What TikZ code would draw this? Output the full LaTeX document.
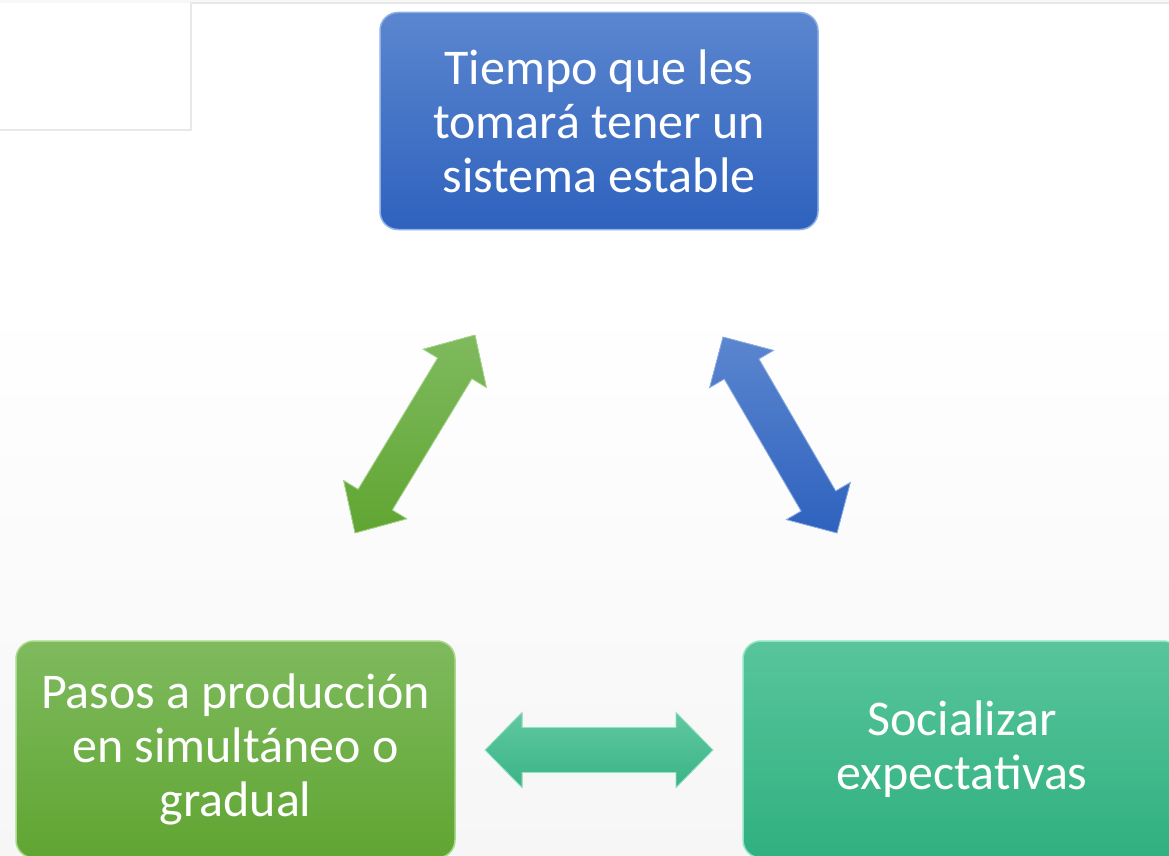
\documentclass[tikz,border=0pt]{standalone}
\usepackage{fontspec}
\setmainfont{Carlito}
\usetikzlibrary{calc}
\definecolor{blueTop}{HTML}{5B86CF}
\definecolor{blueBot}{HTML}{2E62BE}
\definecolor{blueEdge}{HTML}{8FB0E6}
\definecolor{greenTop}{HTML}{7FBA5E}
\definecolor{greenBot}{HTML}{60A532}
\definecolor{greenEdge}{HTML}{A9D98C}
\definecolor{tealTop}{HTML}{58C59C}
\definecolor{tealBot}{HTML}{30B080}
\definecolor{tealEdge}{HTML}{8FE6C6}
\definecolor{frameGray}{HTML}{E8E8E8}
\newcommand\dblarrow[6]{%
  \fill[#6] (#1)
    -- ($(#1)!#5!(#2)!#4!90:(#2)$)
    -- ($(#1)!#5!(#2)!#3!90:(#2)$)
    -- ($(#2)!#5!(#1)!#3!-90:(#1)$)
    -- ($(#2)!#5!(#1)!#4!-90:(#1)$)
    -- (#2)
    -- ($(#2)!#5!(#1)!#4!90:(#1)$)
    -- ($(#2)!#5!(#1)!#3!90:(#1)$)
    -- ($(#1)!#5!(#2)!#3!-90:(#2)$)
    -- ($(#1)!#5!(#2)!#4!-90:(#2)$)
    -- cycle;}
\begin{document}
\begin{tikzpicture}[x=1pt,y=-1pt,
  box/.style={rounded corners=18pt, minimum width=#1, minimum height=217pt,
    inner sep=0pt, align=center, text=white,
    font=\fontsize{50}{54}\selectfont, line width=1.5pt},
  bluebox/.style={box=438pt, top color=blueTop, bottom color=blueBot, draw=blueEdge},
  greenbox/.style={box=439pt, top color=greenTop, bottom color=greenBot, draw=greenEdge},
  tealbox/.style={box=438pt, top color=tealTop, bottom color=tealBot, draw=tealEdge},
  garrow/.style={top color=greenTop, bottom color=greenBot, draw=greenEdge, line width=0.8pt},
  barrow/.style={top color=blueTop, bottom color=blueBot, draw=blueEdge, line width=0.8pt},
  tarrow/.style={top color=tealTop!95!white, bottom color=tealBot!95!white, draw=tealEdge, line width=0.8pt},
  frame/.style={draw=frameGray, line width=2pt}
]
\useasboundingbox (0,0) rectangle (1169,856);
\clip (0,0) rectangle (1169,856);
% background
\fill[white] (0,0) rectangle (1169,300);
\shade[top color=white, bottom color=gray!7] (0,300) rectangle (1169,856);
\fill[gray!6] (0,0) rectangle (1169,3);
\draw[frame] (-5,130) -- (191,130) -- (191,3) -- (1175,3);

% boxes
\node[bluebox] (top) at (599,121) {Tiempo que les\\tomará tener un\\sistema estable};
\node[greenbox] (left) at (235.5,749.5) {Pasos a producción\\en simultáneo o\\gradual};
\node[tealbox] (right) at (962,749.5) {Socializar\\expectativas};

% arrow end coordinates
\coordinate (g1) at (355,533);
\coordinate (g2) at (475,335);
\coordinate (b1) at (723,337);
\coordinate (b2) at (837,533);
\coordinate (t1) at (485,750);
\coordinate (t2) at (713,750);

\dblarrow{g1}{g2}{20pt}{37pt}{39pt}{garrow}
\dblarrow{b1}{b2}{20pt}{37pt}{37pt}{barrow}
\dblarrow{t1}{t2}{22.5pt}{37.5pt}{37pt}{tarrow}
\end{tikzpicture}
\end{document}
